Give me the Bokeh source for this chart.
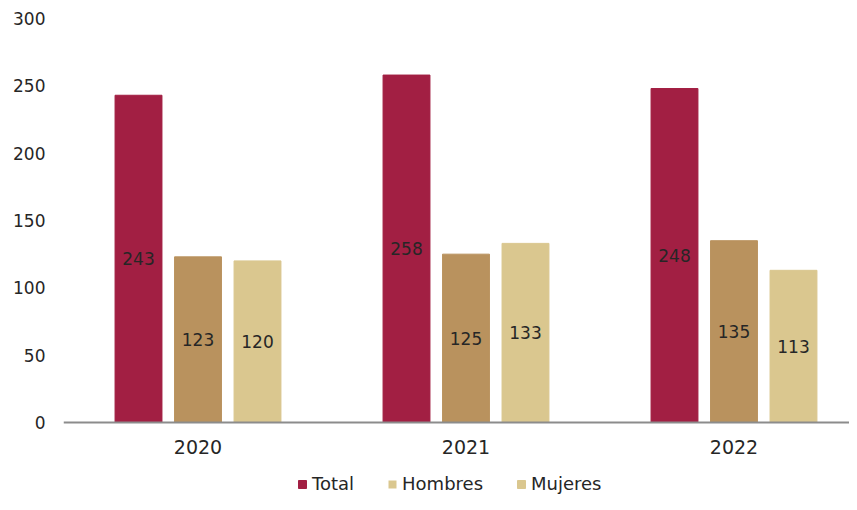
from bokeh.plotting import figure
from bokeh.models import ColumnDataSource, Range1d, Legend, LegendItem, FixedTicker
from bokeh.core.properties import value
from bokeh.transform import dodge
from bokeh.embed import file_html
from bokeh.resources import INLINE

years = ["2020", "2021", "2022"]
total = [243, 258, 248]
hombres = [123, 125, 135]
mujeres = [120, 133, 113]
series_names = ["Total", "Hombres", "Mujeres"]
y_ticks = [0, 50, 100, 150, 200, 250, 300]

C_TOTAL = "#A21F43"
C_HOM = "#B9925E"
C_MUJ = "#DAC78F"
FONT = "DejaVu Sans"
TXT = "#262626"

xs = list(range(len(years)))
src = ColumnDataSource(dict(
    x=xs,
    total=total, hombres=hombres, mujeres=mujeres,
    total_lbl=[str(v) for v in total],
    hombres_lbl=[str(v) for v in hombres],
    mujeres_lbl=[str(v) for v in mujeres],
    total_mid=[v / 2 for v in total],
    hombres_mid=[v / 2 for v in hombres],
    mujeres_mid=[v / 2 for v in mujeres],
))

# the frame runs down to the bottom of the figure; the value axis starts at 0,
# the space under it holds the year labels and the legend
p = figure(width=849, height=494, output_backend="svg", toolbar_location=None,
           x_range=Range1d(-0.5019, 2.431), y_range=Range1d(-53.47, 300),
           min_border_left=63, min_border_right=0, min_border_top=18, min_border_bottom=0)
p.outline_line_color = None
p.grid.visible = False

off = 0.222
bw = 0.175
cols = [("total", C_TOTAL, -off), ("hombres", C_HOM, 0.0), ("mujeres", C_MUJ, off)]
rends = {}
for key, col, o in cols:
    rends[key] = p.vbar(x=dodge("x", o, range=p.x_range), top=key, width=bw, source=src,
                        fill_color=col, line_color=col)
    p.text(x=dodge("x", o, range=p.x_range), y=key + "_mid", text=key + "_lbl", source=src,
           text_align="center", text_baseline="middle", text_font=value(FONT),
           text_font_size="17px", text_color=TXT)

# the original legend shows the Hombres swatch in the light colour: a zero-width
# bar renderer carries that swatch without drawing anything on the plot
hom_swatch = p.vbar(x="x", top="hombres", width=0, source=src,
                    fill_color=C_MUJ, line_color=None)

# y axis
p.yaxis.ticker = FixedTicker(ticks=y_ticks)
p.yaxis.axis_line_color = None
p.yaxis.major_tick_line_color = None
p.yaxis.major_tick_out = 0
p.yaxis.major_tick_in = 0
p.yaxis.minor_tick_line_color = None
p.yaxis.major_label_text_font = FONT
p.yaxis.major_label_text_font_size = "17px"
p.yaxis.major_label_text_color = TXT
p.yaxis.major_label_standoff = 18

# x axis, drawn at value 0
p.xaxis.fixed_location = 0
p.xaxis.ticker = FixedTicker(ticks=xs)
p.xaxis.major_label_overrides = {i: y for i, y in zip(xs, years)}
p.xaxis.axis_line_color = "#8C8C8C"
p.xaxis.axis_line_width = 2
p.xaxis.major_tick_line_color = None
p.xaxis.major_tick_out = 0
p.xaxis.major_tick_in = 0
p.xaxis.minor_tick_line_color = None
p.xaxis.major_label_text_font = FONT
p.xaxis.major_label_text_font_size = "19px"
p.xaxis.major_label_text_color = TXT
p.xaxis.major_label_standoff = 18

items = [
    LegendItem(label=series_names[0], renderers=[rends["total"]], index=0),
    LegendItem(label=series_names[1], renderers=[hom_swatch], index=0),
    LegendItem(label=series_names[2], renderers=[rends["mujeres"]], index=0),
]

legend = Legend(items=items, orientation="horizontal", location=(234, 0),
                glyph_width=10, glyph_height=10, label_standoff=5, spacing=33,
                label_text_font=FONT, label_text_font_size="18px", label_text_color=TXT,
                border_line_color=None, background_fill_alpha=0, padding=0, margin=0)
p.add_layout(legend, "center")

open("out.html", "w").write(file_html(p, INLINE))
